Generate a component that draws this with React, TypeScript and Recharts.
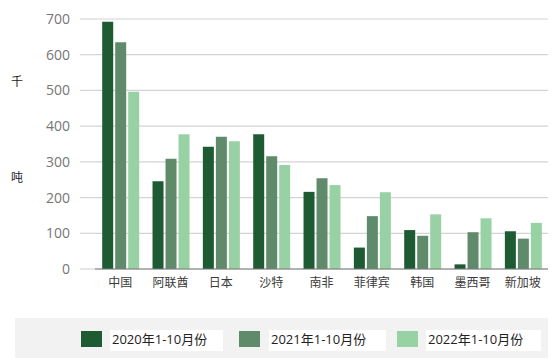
import { Bar, BarChart, CartesianGrid, XAxis, YAxis } from "recharts";

const countries = ["中国", "阿联酋", "日本", "沙特", "南非", "菲律宾", "韩国", "墨西哥", "新加坡"];
const y2020 = [692, 246, 342, 377, 216, 60, 109, 13, 106];
const y2021 = [635, 309, 370, 316, 254, 148, 93, 103, 85];
const y2022 = [496, 377, 358, 291, 235, 215, 153, 142, 129];
const seriesNames = ["2020年1-10月份", "2021年1-10月份", "2022年1-10月份"];
const yTicks = [0, 100, 200, 300, 400, 500, 600, 700];

const colors = ["#1e5b33", "#5f8b6b", "#98d1a3"];
const font = "'Open Sans', 'Noto Sans CJK SC', sans-serif";

const data = countries.map((name, i) => ({
  name,
  a: y2020[i],
  b: y2021[i],
  c: y2022[i],
}));

// legend boxes: swatch left, text box left/right
const legendPos = [
  { sw: 81, tx: 110, tw: 113 },
  { sw: 239, tx: 269, tw: 117 },
  { sw: 397, tx: 426, tw: 115 },
];

export default function App() {
  return (
    <div
      style={{
        position: "fixed",
        left: 0,
        top: 0,
        width: 553,
        height: 360,
        background: "#fff",
        fontFamily: font,
      }}
    >
      <BarChart
        width={553}
        height={300}
        data={data}
        margin={{ top: 19, right: 5, bottom: 6, left: 0 }}
        barCategoryGap="14.3%"
        barGap={2}
      >
        <CartesianGrid vertical={false} stroke="#d4d4d4" strokeWidth={1.2} />
        <XAxis
          dataKey="name"
          tickLine={false}
          axisLine={{ stroke: "#7a7a7a", strokeWidth: 1.2 }}
          tickMargin={3}
          height={25}
          interval={0}
          tick={{ fill: "#3a3a3a", fontSize: 12, fontFamily: font }}
        />
        <YAxis
          width={95}
          domain={[0, 700]}
          ticks={yTicks}
          axisLine={false}
          tickSize={15}
          tickMargin={10}
          tickLine={{ stroke: "#d4d4d4", strokeWidth: 1.2 }}
          tick={{ fill: "#767676", fontSize: 14, fontFamily: font }}
        />
        <Bar dataKey="a" name={seriesNames[0]} fill={colors[0]} isAnimationActive={false} />
        <Bar dataKey="b" name={seriesNames[1]} fill={colors[1]} isAnimationActive={false} />
        <Bar dataKey="c" name={seriesNames[2]} fill={colors[2]} isAnimationActive={false} />
      </BarChart>

      <div style={{ position: "absolute", left: 11, top: 72, fontSize: 12, color: "#222" }}>千</div>
      <div style={{ position: "absolute", left: 11, top: 168, fontSize: 12, color: "#222" }}>吨</div>

      <div
        style={{
          position: "absolute",
          left: 15,
          top: 318,
          width: 533,
          height: 40,
          background: "#f2f2f2",
        }}
      >
        {seriesNames.map((n, i) => (
          <div key={n}>
            <div
              style={{
                position: "absolute",
                left: legendPos[i].sw - 15,
                top: 13,
                width: 21,
                height: 16,
                background: colors[i],
              }}
            />
            <div
              style={{
                position: "absolute",
                left: legendPos[i].tx - 15,
                top: 12,
                width: legendPos[i].tw,
                height: 21,
                background: "#fff",
                fontSize: 13,
                lineHeight: "19px",
                color: "#222",
                paddingLeft: 2,
                boxSizing: "border-box",
              }}
            >
              {n}
            </div>
          </div>
        ))}
      </div>
    </div>
  );
}
